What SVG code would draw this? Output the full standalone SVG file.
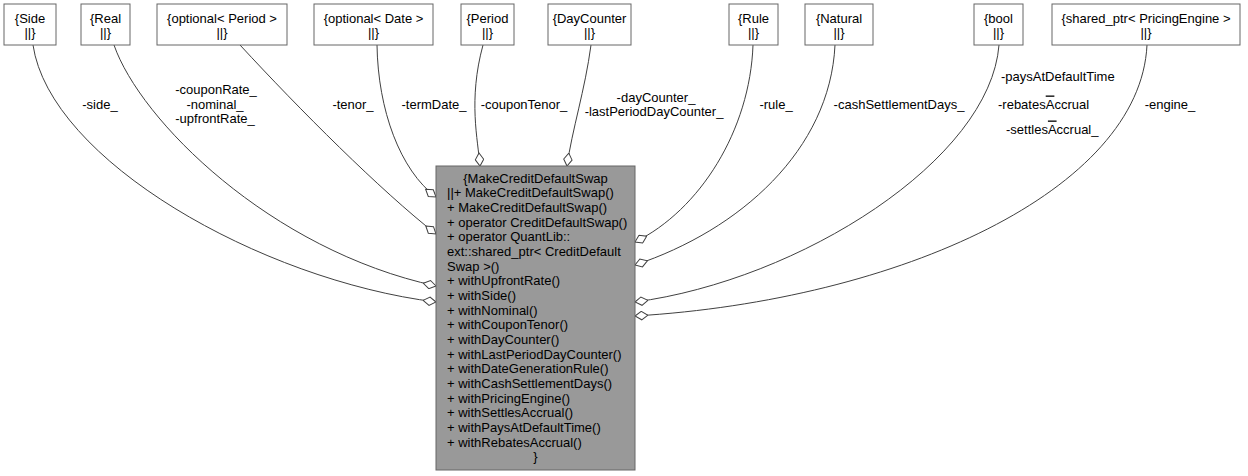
<svg xmlns="http://www.w3.org/2000/svg" width="1248" height="476" viewBox="0 0 1248 476">
<style>
text{font-family:"Liberation Sans",Arial,Helvetica,sans-serif;font-size:13px;fill:#000}
.c{text-anchor:middle}
.ov{text-decoration:overline}
.box{fill:#fff;stroke:#666666;stroke-width:1}
.main{fill:#999999;stroke:#666666;stroke-width:1}
.e{fill:none;stroke:#404040;stroke-width:1;marker-end:url(#od)}
</style>
<defs>
<marker id="od" viewBox="0 0 14 10" refX="13.5" refY="5" markerWidth="14" markerHeight="10" markerUnits="userSpaceOnUse" orient="auto">
<path d="M0.5,5 L7,0.8 L13.5,5 L7,9.2 Z" fill="#fff" stroke="#404040" stroke-width="1"/>
</marker>
</defs>
<rect width="1248" height="476" fill="#fff"/>
<g id="connectors">
<path class="e" d="M33,45 C50,160 260,280 436,302"/>
<path class="e" d="M114,45 C140,120 270,250 436,286"/>
<path class="e" d="M240,45 C300,110 380,190 436,234"/>
<path class="e" d="M377,45 C378,110 400,170 436,197"/>
<path class="e" d="M483,45 C468,100 478,140 480,166"/>
<path class="e" d="M591,45 C585,90 572,130 567,166"/>
<path class="e" d="M753,45 C750,130 700,210 635,242"/>
<path class="e" d="M835,45 C830,150 740,230 635,265"/>
<path class="e" d="M999,45 C990,160 800,280 635,302"/>
<path class="e" d="M1147,45 C1140,190 900,300 635,316"/>
<text class="c" x="100" y="108.5">-side_</text>
<text class="c" x="216" y="94">-couponRate_</text>
<text class="c" x="215" y="108.5">-nominal_</text>
<text class="c" x="215" y="123">-upfrontRate_</text>
<text class="c" x="353" y="108.5">-tenor_</text>
<text class="c" x="434" y="108.5">-termDate_</text>
<text class="c" x="524" y="108.5">-couponTenor_</text>
<text class="c" x="656" y="101.5">-dayCounter_</text>
<text class="c" x="654" y="116">-lastPeriodDayCounter_</text>
<text class="c" x="776" y="108.5">-rule_</text>
<text class="c" x="899" y="108.5">-cashSettlementDays_</text>
<text x="1001" y="80.5">-paysAtDefaultTime</text>
<text x="998" y="108.5">-rebates<tspan class="ov">A</tspan>ccrual</text>
<text x="1006" y="133.5">-settles<tspan class="ov">A</tspan>ccrual_</text>
<text class="c" x="1170" y="108.5">-engine_</text>
</g>
<g id="node-side"><rect class="box" x="4" y="4" width="52" height="41"/><text class="c" x="30" y="22.5">{Side</text><text class="c" x="30" y="37">||}</text></g>
<g id="node-real"><rect class="box" x="81" y="4" width="49" height="41"/><text class="c" x="105.5" y="22.5">{Real</text><text class="c" x="105.5" y="37">||}</text></g>
<g id="node-optperiod"><rect class="box" x="157" y="4" width="130" height="41"/><text class="c" x="222" y="22.5">{optional&lt; Period &gt;</text><text class="c" x="222" y="37">||}</text></g>
<g id="node-optdate"><rect class="box" x="314" y="4" width="119" height="41"/><text class="c" x="373.5" y="22.5">{optional&lt; Date &gt;</text><text class="c" x="373.5" y="37">||}</text></g>
<g id="node-period"><rect class="box" x="461" y="4" width="53" height="41"/><text class="c" x="487.5" y="22.5">{Period</text><text class="c" x="487.5" y="37">||}</text></g>
<g id="node-daycounter"><rect class="box" x="548" y="4" width="83" height="41"/><text class="c" x="589.5" y="22.5">{DayCounter</text><text class="c" x="589.5" y="37">||}</text></g>
<g id="node-rule"><rect class="box" x="729" y="4" width="49" height="41"/><text class="c" x="753.5" y="22.5">{Rule</text><text class="c" x="753.5" y="37">||}</text></g>
<g id="node-natural"><rect class="box" x="805" y="4" width="68" height="41"/><text class="c" x="839" y="22.5">{Natural</text><text class="c" x="839" y="37">||}</text></g>
<g id="node-bool"><rect class="box" x="974" y="4" width="49" height="41"/><text class="c" x="998.5" y="22.5">{bool</text><text class="c" x="998.5" y="37">||}</text></g>
<g id="node-engine"><rect class="box" x="1052" y="4" width="188" height="41"/><text class="c" x="1146" y="22.5">{shared_ptr&lt; PricingEngine &gt;</text><text class="c" x="1146" y="37">||}</text></g>
<g id="node-main">
<rect class="main" x="436" y="166" width="199" height="304"/>
<text class="c" x="535.5" y="182.5">{MakeCreditDefaultSwap</text>
<text x="447" y="197.2">||+ MakeCreditDefaultSwap()</text>
<text x="447" y="211.9">+ MakeCreditDefaultSwap()</text>
<text x="447" y="226.5">+ operator CreditDefaultSwap()</text>
<text x="447" y="241.2">+ operator QuantLib::</text>
<text x="447" y="255.9">ext::shared_ptr&lt; CreditDefault</text>
<text x="447" y="270.6">Swap &gt;()</text>
<text x="447" y="285.3">+ withUpfrontRate()</text>
<text x="447" y="299.9">+ withSide()</text>
<text x="447" y="314.6">+ withNominal()</text>
<text x="447" y="329.3">+ withCouponTenor()</text>
<text x="447" y="344">+ withDayCounter()</text>
<text x="447" y="358.7">+ withLastPeriodDayCounter()</text>
<text x="447" y="373.3">+ withDateGenerationRule()</text>
<text x="447" y="388">+ withCashSettlementDays()</text>
<text x="447" y="402.7">+ withPricingEngine()</text>
<text x="447" y="417.4">+ withSettlesAccrual()</text>
<text x="447" y="432.1">+ withPaysAtDefaultTime()</text>
<text x="447" y="446.7">+ withRebatesAccrual()</text>
<text class="c" x="535.5" y="461.4">}</text>
</g>
</svg>
